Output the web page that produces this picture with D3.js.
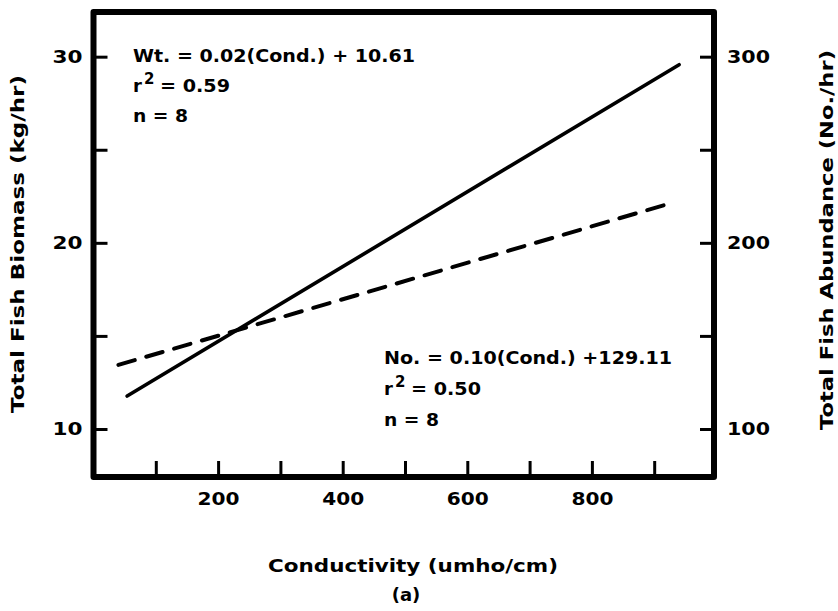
<!DOCTYPE html>
<html><head><meta charset="utf-8">
<script src="https://cdn.jsdelivr.net/npm/d3@7"></script>
<style>body{margin:0;background:#fff}svg text{font-family:"DejaVu Sans",sans-serif;font-weight:bold;fill:#000}</style>
</head><body>
<svg id="c" width="838" height="611"></svg>
<script>
// ---- data ----
const xTickValues = [100, 200, 300, 400, 500, 600, 700, 800, 900];
const xTickLabels = [200, 400, 600, 800];
const leftTickValues = [10, 15, 20, 25, 30];
const leftTickLabels = [10, 20, 30];
const rightTickValues = [100, 150, 200, 250, 300];
const rightTickLabels = [100, 200, 300];
// regression line for biomass (solid, left axis)
const biomassCond = [54, 940];
const biomassKg = [11.77, 29.57];
// regression line for abundance (dashed, right axis)
const abundanceCond = [40, 924];
const abundanceNo = [134.4, 221.0];
const xTitle = "Conductivity (umho/cm)";
const leftTitle = "Total Fish Biomass (kg/hr)";
const rightTitle = "Total Fish Abundance (No./hr)";
const panelLabel = "(a)";
const wtEq = ["Wt. = 0.02(Cond.) + 10.61", "0.59", "8"];
const noEq = ["No. = 0.10(Cond.) +129.11", "0.50", "8"];

// ---- layout ----
const svg = d3.select("#c");
const L = 93.5, R = 714, T = 12, B = 477;
const x = d3.scaleLinear().domain([0, 996]).range([L, R]);
const yL = d3.scaleLinear().domain([7.42, 32.4]).range([B, T]);
const yR = d3.scaleLinear().domain([74.2, 324]).range([B, T]);

// axes (ticks inward, labels outside)
function styleAxis(g, widthMap) {
  g.select(".domain").remove();
  g.selectAll(".tick line").attr("stroke", "#000").attr("stroke-width", 3);
  g.selectAll(".tick text").attr("font-size", 18).attr("font-family", null)
    .attr("lengthAdjust", "spacingAndGlyphs")
    .each(function(){ const t = d3.select(this).text(); if (t) d3.select(this).attr("textLength", widthMap[t.length]); });
}
const gx = svg.append("g").attr("transform", `translate(0,${B})`)
  .call(d3.axisBottom(x).tickValues(xTickValues).tickSize(-16).tickPadding(14)
    .tickFormat(d => xTickLabels.includes(d) ? String(d) : ""));
styleAxis(gx, {3: 42});
gx.selectAll(".tick text").attr("dy", null).attr("y", 28);

const gl = svg.append("g").attr("transform", `translate(${L},0)`)
  .call(d3.axisLeft(yL).tickValues(leftTickValues).tickSize(-14).tickPadding(11)
    .tickFormat(d => leftTickLabels.includes(d) ? String(d) : ""));
styleAxis(gl, {2: 30});

const gr = svg.append("g").attr("transform", `translate(${R},0)`)
  .call(d3.axisRight(yR).tickValues(rightTickValues).tickSize(-14).tickPadding(13)
    .tickFormat(d => rightTickLabels.includes(d) ? String(d) : ""));
styleAxis(gr, {3: 43});

// frame
svg.append("rect").attr("x", L).attr("y", T).attr("width", R - L).attr("height", B - T)
  .attr("fill", "none").attr("stroke", "#000").attr("stroke-width", 6).attr("stroke-linejoin", "round");

// lines
const solid = d3.line().x(d => x(d[0])).y(d => yL(d[1]));
svg.append("path").datum(d3.zip(biomassCond, biomassKg)).attr("d", solid)
  .attr("fill", "none").attr("stroke", "#000").attr("stroke-width", 3.6).attr("stroke-linecap", "round");
const dashed = d3.line().x(d => x(d[0])).y(d => yR(d[1]));
svg.append("path").datum(d3.zip(abundanceCond, abundanceNo)).attr("d", dashed)
  .attr("fill", "none").attr("stroke", "#000").attr("stroke-width", 4)
  .attr("stroke-dasharray", "17 12").attr("stroke-linecap", "round");

// equation blocks
function eqBlock(x0, ys, eq, w0) {
  svg.append("text").attr("x", x0).attr("y", ys[0]).attr("font-size", 18)
    .attr("textLength", w0).attr("lengthAdjust", "spacingAndGlyphs").text(eq[0]);
  svg.append("text").attr("x", x0).attr("y", ys[1]).attr("font-size", 18).text("r");
  svg.append("text").attr("x", x0 + 11).attr("y", ys[1] - 8).attr("font-size", 15).text("2");
  svg.append("text").attr("x", x0 + 27).attr("y", ys[1]).attr("font-size", 18)
    .attr("textLength", 70).attr("lengthAdjust", "spacingAndGlyphs").text("= " + eq[1]);
  svg.append("text").attr("x", x0).attr("y", ys[2]).attr("font-size", 18)
    .attr("textLength", 55).attr("lengthAdjust", "spacingAndGlyphs").text("n = " + eq[2]);
}
eqBlock(133, [62, 92, 122], wtEq, 282);
eqBlock(384, [364, 395, 426], noEq, 288);

// titles
svg.append("text").attr("x", 413).attr("y", 572).attr("text-anchor", "middle").attr("font-size", 18)
  .attr("textLength", 290).attr("lengthAdjust", "spacingAndGlyphs").text(xTitle);
svg.append("text").attr("x", 406).attr("y", 601).attr("text-anchor", "middle").attr("font-size", 18).text(panelLabel);
svg.append("text").attr("transform", "translate(24,244) rotate(-90)").attr("text-anchor", "middle").attr("font-size", 18)
  .attr("textLength", 338).attr("lengthAdjust", "spacingAndGlyphs").text(leftTitle);
svg.append("text").attr("transform", "translate(833,240) rotate(-90)").attr("text-anchor", "middle").attr("font-size", 18)
  .attr("textLength", 380).attr("lengthAdjust", "spacingAndGlyphs").text(rightTitle);
</script>
</body></html>
